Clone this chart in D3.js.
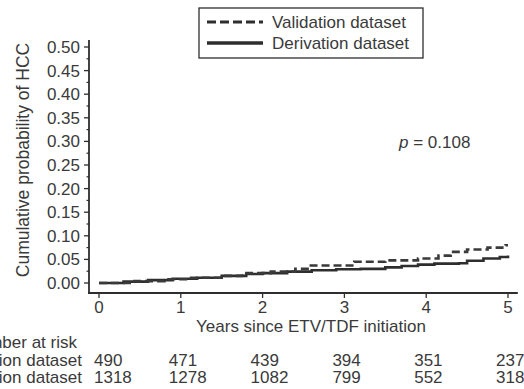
<!DOCTYPE html>
<meta charset="utf-8">
<script src="https://d3js.org/d3.v7.min.js"></script>
<style>
body { margin: 0; background: #fff; }
#km-chart svg { display: block; font-family: "Liberation Sans", Arial, sans-serif; }
</style>
<div id="km-chart"></div>
<script>
// step points: [years, cumulative probability]
var validationSteps = [[0, 0], [0.4, 0.004], [0.8, 0.008], [1.1, 0.011], [1.5, 0.015], [1.75, 0.021],
  [2.1, 0.024], [2.4, 0.030], [2.55, 0.037], [3.12, 0.045], [3.5, 0.048], [3.9, 0.052],
  [4.15, 0.058], [4.3, 0.066], [4.5, 0.071], [4.75, 0.075], [4.97, 0.080], [5.0, 0.080]];
var derivationSteps = [[0, 0], [0.3, 0.003], [0.6, 0.006], [0.9, 0.009], [1.2, 0.011], [1.5, 0.015],
  [1.8, 0.019], [2.0, 0.021], [2.3, 0.024], [2.6, 0.027], [2.9, 0.029], [3.2, 0.030],
  [3.5, 0.033], [3.7, 0.036], [3.9, 0.039], [4.1, 0.041], [4.4, 0.042], [4.5, 0.047],
  [4.7, 0.052], [4.9, 0.055], [5.0, 0.058]];
var seriesNames = ["Validation dataset", "Derivation dataset"];
var xTicks = [0, 1, 2, 3, 4, 5];
var yTicks = [0, 0.05, 0.1, 0.15, 0.2, 0.25, 0.3, 0.35, 0.4, 0.45, 0.5];
var yMinorTicks = [0.025, 0.075, 0.125, 0.175, 0.225, 0.275, 0.325, 0.375, 0.425, 0.475];
var atRiskValidation = [490, 471, 439, 394, 351, 237];
var atRiskDerivation = [1318, 1278, 1082, 799, 552, 318];
var pText = "0.108";

var W = 524, H = 389;
var ink = "#2e2e2e", textInk = "#3a3a3a";

var svg = d3.select("#km-chart").append("svg")
  .attr("width", W).attr("height", H);

var x = d3.scaleLinear().domain([0, 5]).range([99, 508]);
var y = d3.scaleLinear().domain([0, 0.5]).range([283, 47]);
var axisY = 293, axisX = 89;

// axes lines
svg.append("line")
  .attr("x1", axisX).attr("x2", axisX)
  .attr("y1", y(0.515)).attr("y2", axisY + 1)
  .attr("stroke", ink).attr("stroke-width", 1.8);
svg.append("line")
  .attr("x1", axisX - 1).attr("x2", x(5.12))
  .attr("y1", axisY).attr("y2", axisY)
  .attr("stroke", ink).attr("stroke-width", 1.8);

// y ticks
svg.selectAll(".ytick").data(yTicks).enter().append("line")
  .attr("x1", axisX - 5).attr("x2", axisX)
  .attr("y1", function(d) { return y(d); }).attr("y2", function(d) { return y(d); })
  .attr("stroke", ink).attr("stroke-width", 1.3);
svg.selectAll(".yminor").data(yMinorTicks).enter().append("line")
  .attr("x1", axisX - 2.5).attr("x2", axisX)
  .attr("y1", function(d) { return y(d); }).attr("y2", function(d) { return y(d); })
  .attr("stroke", ink).attr("stroke-width", 1.2);
svg.selectAll(".ylab").data(yTicks).enter().append("text")
  .attr("x", axisX - 9).attr("y", function(d) { return y(d) + 6; })
  .attr("text-anchor", "end").attr("font-size", 17).attr("fill", textInk)
  .text(function(d) { return d3.format(".2f")(d); });

// x ticks
svg.selectAll(".xtick").data(xTicks).enter().append("line")
  .attr("x1", function(d) { return x(d); }).attr("x2", function(d) { return x(d); })
  .attr("y1", axisY).attr("y2", axisY + 5)
  .attr("stroke", ink).attr("stroke-width", 1.3);
svg.selectAll(".xlab").data(xTicks).enter().append("text")
  .attr("x", function(d) { return x(d); }).attr("y", 313)
  .attr("text-anchor", "middle").attr("font-size", 17).attr("fill", textInk)
  .text(function(d) { return d; });

// axis titles
svg.append("text")
  .attr("x", 311).attr("y", 332)
  .attr("text-anchor", "middle").attr("font-size", 17).attr("fill", textInk)
  .text("Years since ETV/TDF initiation");
svg.append("text")
  .attr("transform", "translate(29,160) rotate(-90)")
  .attr("text-anchor", "middle").attr("font-size", 17.5).attr("fill", textInk)
  .text("Cumulative probability of HCC");

// curves
var line = d3.line()
  .x(function(d) { return x(d[0]); })
  .y(function(d) { return y(d[1]); })
  .curve(d3.curveStepAfter);
svg.append("path").datum(derivationSteps)
  .attr("d", line).attr("fill", "none")
  .attr("stroke", ink).attr("stroke-width", 2.6);
svg.append("path").datum(validationSteps)
  .attr("d", line).attr("fill", "none")
  .attr("stroke", "#3a3a3a").attr("stroke-width", 2.6)
  .attr("stroke-dasharray", "8,4");

// p value
var pt = svg.append("text").attr("x", 399).attr("y", 148)
  .attr("font-size", 17).attr("fill", textInk);
pt.append("tspan").attr("font-style", "italic").text("p");
pt.append("tspan").text(" = " + pText);

// legend
var lg = svg.append("g");
lg.append("rect").attr("x", 199).attr("y", 8).attr("width", 224).attr("height", 50)
  .attr("fill", "#fff").attr("stroke", ink).attr("stroke-width", 1.3);
var legendY = [22, 43];
seriesNames.forEach(function(name, i) {
  lg.append("line")
    .attr("x1", 207).attr("x2", 263)
    .attr("y1", legendY[i]).attr("y2", legendY[i])
    .attr("stroke", ink).attr("stroke-width", i === 0 ? 3 : 3.6)
    .attr("stroke-dasharray", i === 0 ? "9,4" : null);
  lg.append("text")
    .attr("x", 272).attr("y", legendY[i] + 6)
    .attr("font-size", 17).attr("fill", textInk)
    .text(name);
});

// number at risk table (left part runs off the edge, as in the source)
svg.append("text").attr("x", 77).attr("y", 348)
  .attr("text-anchor", "end")
  .attr("font-size", 17).attr("fill", textInk).text("Number at risk");
var rows = [atRiskValidation, atRiskDerivation];
var rowY = [366, 383];
rows.forEach(function(vals, r) {
  svg.append("text").attr("x", 82).attr("y", rowY[r])
    .attr("text-anchor", "end").attr("font-size", 17).attr("fill", textInk)
    .text(seriesNames[r]);
  svg.selectAll(".risk" + r).data(vals).enter().append("text")
    .attr("x", function(d, i) { return x(xTicks[i]) - (i === 0 ? 5 : 12); })
    .attr("y", rowY[r])
    .attr("font-size", 17).attr("fill", textInk)
    .text(function(d) { return d; });
});
</script>
